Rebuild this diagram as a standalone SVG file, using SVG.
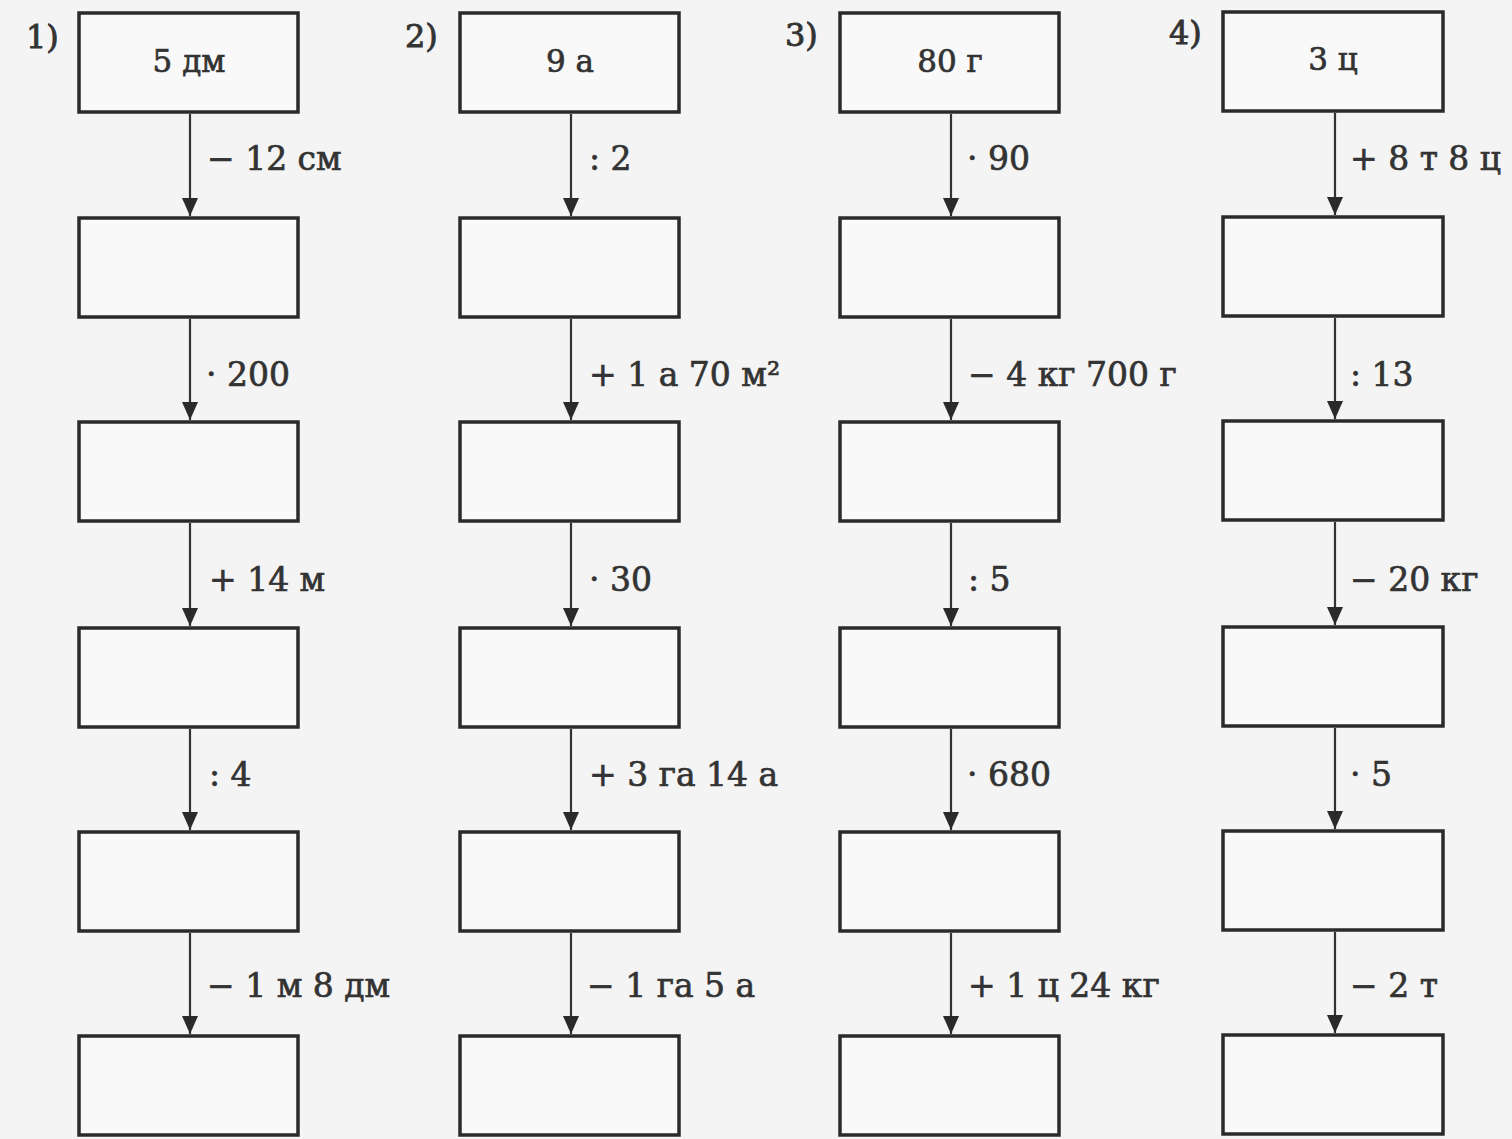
<svg xmlns="http://www.w3.org/2000/svg" width="1512" height="1139" viewBox="0 0 1512 1139">
<style>
.box{fill:#f9f9f9;stroke:#2a2a2a;stroke-width:3.5}
.lbl{font-family:"DejaVu Serif","Liberation Serif",serif;font-size:33px;fill:#333;stroke:#333;stroke-width:0.7}
.val{font-family:"DejaVu Serif","Liberation Serif",serif;font-size:31px;fill:#333;stroke:#333;stroke-width:0.7;text-anchor:middle}
.num{font-family:"DejaVu Serif","Liberation Serif",serif;font-size:32px;fill:#333;stroke:#333;stroke-width:0.9}
.con line{stroke:#333;stroke-width:2.2;marker-end:url(#ah)}
</style>
<defs>
<marker id="ah" markerUnits="userSpaceOnUse" markerWidth="20" markerHeight="18" refX="18" refY="8" orient="auto">
<path d="M0,0 L18,8 L0,16 z" fill="#2a2a2a"/>
</marker>
</defs>
<rect width="1512" height="1139" fill="#f4f4f4"/>
<g id="numbers">
<text class="num" x="26" y="48">1)</text>
<text class="num" x="405" y="47">2)</text>
<text class="num" x="785" y="46">3)</text>
<text class="num" x="1169" y="44">4)</text>
</g>
<g id="col1">
<g id="c1n1"><rect class="box" x="79" y="13" width="219" height="99"/><text class="val" x="189" y="72">5 дм</text></g>
<g id="c1n2"><rect class="box" x="79" y="218" width="219" height="99"/></g>
<g id="c1n3"><rect class="box" x="79" y="422" width="219" height="99"/></g>
<g id="c1n4"><rect class="box" x="79" y="628" width="219" height="99"/></g>
<g id="c1n5"><rect class="box" x="79" y="832" width="219" height="99"/></g>
<g id="c1n6"><rect class="box" x="79" y="1036" width="219" height="99"/></g>
</g>
<g id="col2">
<g id="c2n1"><rect class="box" x="460" y="13" width="219" height="99"/><text class="val" x="570" y="72">9 а</text></g>
<g id="c2n2"><rect class="box" x="460" y="218" width="219" height="99"/></g>
<g id="c2n3"><rect class="box" x="460" y="422" width="219" height="99"/></g>
<g id="c2n4"><rect class="box" x="460" y="628" width="219" height="99"/></g>
<g id="c2n5"><rect class="box" x="460" y="832" width="219" height="99"/></g>
<g id="c2n6"><rect class="box" x="460" y="1036" width="219" height="99"/></g>
</g>
<g id="col3">
<g id="c3n1"><rect class="box" x="840" y="13" width="219" height="99"/><text class="val" x="950" y="72">80 г</text></g>
<g id="c3n2"><rect class="box" x="840" y="218" width="219" height="99"/></g>
<g id="c3n3"><rect class="box" x="840" y="422" width="219" height="99"/></g>
<g id="c3n4"><rect class="box" x="840" y="628" width="219" height="99"/></g>
<g id="c3n5"><rect class="box" x="840" y="832" width="219" height="99"/></g>
<g id="c3n6"><rect class="box" x="840" y="1036" width="219" height="99"/></g>
</g>
<g id="col4">
<g id="c4n1"><rect class="box" x="1223" y="12" width="220" height="99"/><text class="val" x="1333" y="70">3 ц</text></g>
<g id="c4n2"><rect class="box" x="1223" y="217" width="220" height="99"/></g>
<g id="c4n3"><rect class="box" x="1223" y="421" width="220" height="99"/></g>
<g id="c4n4"><rect class="box" x="1223" y="627" width="220" height="99"/></g>
<g id="c4n5"><rect class="box" x="1223" y="831" width="220" height="99"/></g>
<g id="c4n6"><rect class="box" x="1223" y="1035" width="220" height="99"/></g>
</g>
<g id="connectors" class="con">
<line x1="190" y1="114" x2="190" y2="216"/>
<line x1="190" y1="319" x2="190" y2="420"/>
<line x1="190" y1="523" x2="190" y2="626"/>
<line x1="190" y1="729" x2="190" y2="830"/>
<line x1="190" y1="933" x2="190" y2="1034"/>
<line x1="571" y1="114" x2="571" y2="216"/>
<line x1="571" y1="319" x2="571" y2="420"/>
<line x1="571" y1="523" x2="571" y2="626"/>
<line x1="571" y1="729" x2="571" y2="830"/>
<line x1="571" y1="933" x2="571" y2="1034"/>
<line x1="951" y1="114" x2="951" y2="216"/>
<line x1="951" y1="319" x2="951" y2="420"/>
<line x1="951" y1="523" x2="951" y2="626"/>
<line x1="951" y1="729" x2="951" y2="830"/>
<line x1="951" y1="933" x2="951" y2="1034"/>
<line x1="1335" y1="113" x2="1335" y2="215"/>
<line x1="1335" y1="318" x2="1335" y2="419"/>
<line x1="1335" y1="522" x2="1335" y2="625"/>
<line x1="1335" y1="728" x2="1335" y2="829"/>
<line x1="1335" y1="932" x2="1335" y2="1033"/>
</g>
<g id="labels">
<text class="lbl" x="207" y="170">− 12 см</text>
<text class="lbl" x="206" y="386">· 200</text>
<text class="lbl" x="209" y="591">+ 14 м</text>
<text class="lbl" x="209" y="786">: 4</text>
<text class="lbl" x="207" y="997">− 1 м 8 дм</text>
<text class="lbl" x="589" y="170">: 2</text>
<text class="lbl" x="589" y="386">+ 1 а 70 м²</text>
<text class="lbl" x="589" y="591">· 30</text>
<text class="lbl" x="589" y="786">+ 3 га 14 а</text>
<text class="lbl" x="587" y="997">− 1 га 5 а</text>
<text class="lbl" x="967" y="170">· 90</text>
<text class="lbl" x="968" y="386">− 4 кг 700 г</text>
<text class="lbl" x="968" y="591">: 5</text>
<text class="lbl" x="967" y="786">· 680</text>
<text class="lbl" x="968" y="997">+ 1 ц 24 кг</text>
<text class="lbl" x="1350" y="170">+ 8 т 8 ц</text>
<text class="lbl" x="1350" y="386">: 13</text>
<text class="lbl" x="1350" y="591">− 20 кг</text>
<text class="lbl" x="1350" y="786">· 5</text>
<text class="lbl" x="1350" y="997">− 2 т</text>
</g>
</svg>
